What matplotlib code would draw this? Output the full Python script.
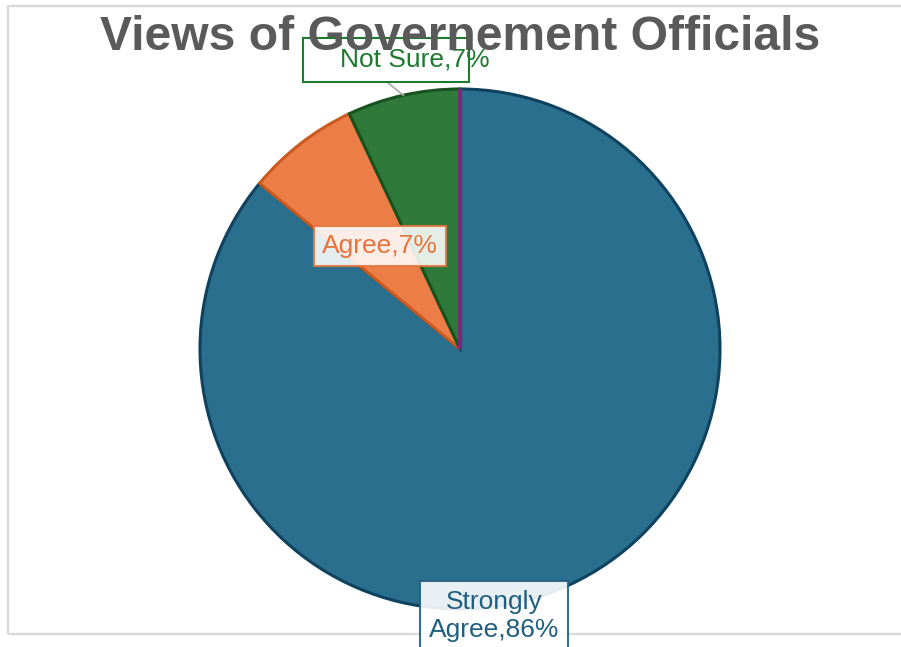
import numpy as np
import matplotlib
matplotlib.use("Agg")
import matplotlib.pyplot as plt
from matplotlib.patches import Rectangle

plt.rcParams['font.family'] = ['Liberation Sans', 'DejaVu Sans']

categories = ["Strongly Agree", "Agree", "Not Sure", "Disagree"]
values = [86, 7, 7, 0]
label_texts = ["Strongly\nAgree,86%", "Agree,7%", "Not Sure,7%", ""]
face_colors = ["#2b6f8e", "#ec7d46", "#2f7a3b", "#7a2a78"]
edge_colors = ["#0f425e", "#cc5a1e", "#17521f", "#7a2a78"]
text_colors = ["#1f5f80", "#e8743b", "#1e7a2e", "#7a2a78"]
title = "Views of Governement Officials"

W, H = 901, 647
fig = plt.figure(figsize=(W / 100, H / 100), dpi=100)
R = 260.0
cx, cy = 460.0, H - 349.0
ax = fig.add_axes([0, 0, 1, 1])

wedges, _ = ax.pie(values, colors=face_colors, startangle=90, counterclock=False,
                   radius=1.0, center=(0, 0), normalize=True,
                   wedgeprops=dict(linewidth=2.2))
for w, ec in zip(wedges, edge_colors):
    w.set_edgecolor(ec)
wedges[3].set_linewidth(3.0)
wedges[3].set_zorder(5)
ax.set_aspect("auto")
ax.set_xlim(-cx / R, (W - cx) / R)
ax.set_ylim(-cy / R, (H - cy) / R)
ax.axis("off")

# light border (behind labels)
ax.add_patch(Rectangle((8 / W, (H - 634) / H), (W + 10) / W, (634 - 6) / H,
                       transform=fig.transFigure, fill=False, clip_on=False,
                       edgecolor="#d9d9d9", linewidth=1.6, zorder=0))

fs = 19
# Strongly Agree label (bottom)
ang = np.deg2rad(-82.7)
ax.text(1.035 * np.cos(ang), 1.035 * np.sin(ang), label_texts[0], ha="center", va="center",
        fontsize=fs, color=text_colors[0], linespacing=1.2, zorder=10,
        bbox=dict(boxstyle="square,pad=0.33", facecolor="white", alpha=0.9,
                  edgecolor=text_colors[0], linewidth=1.5))

# Agree label (inside)
w = wedges[1]
mid = np.deg2rad((w.theta1 + w.theta2) / 2)
ax.text(0.5 * np.cos(mid), 0.5 * np.sin(mid), label_texts[1], ha="center", va="center",
        fontsize=fs, color=text_colors[1], zorder=10,
        bbox=dict(boxstyle="square,pad=0.3", facecolor="white", alpha=0.88,
                  edgecolor=text_colors[1], linewidth=1.5))

# Not Sure label (outside with leader and offset box)
w = wedges[2]
mid = np.deg2rad((w.theta1 + w.theta2) / 2)
ang2 = np.deg2rad(98.85)
tx, ty = 1.125 * np.cos(ang2), 1.125 * np.sin(ang2)
bw, bh = 166 / R, 44 / R
bx = tx - 29 / R
ax.add_patch(Rectangle((bx - bw / 2, ty - bh / 2), bw, bh, facecolor="white",
                       edgecolor=text_colors[2], linewidth=1.5, zorder=3))
ax.text(tx, ty, label_texts[2], ha="center", va="center", fontsize=fs,
        color=text_colors[2], zorder=4)
ax.plot([np.cos(mid), bx + 1 / R], [np.sin(mid), ty - bh / 2], color="#aaaaaa",
        linewidth=1.2, zorder=2)

fig.text(460 / W, 1 - 38 / H, title, ha="center", va="center", fontsize=34.6,
         fontweight="bold", color="#5a5a5a", zorder=20)

fig.savefig("out.png", dpi=100)
